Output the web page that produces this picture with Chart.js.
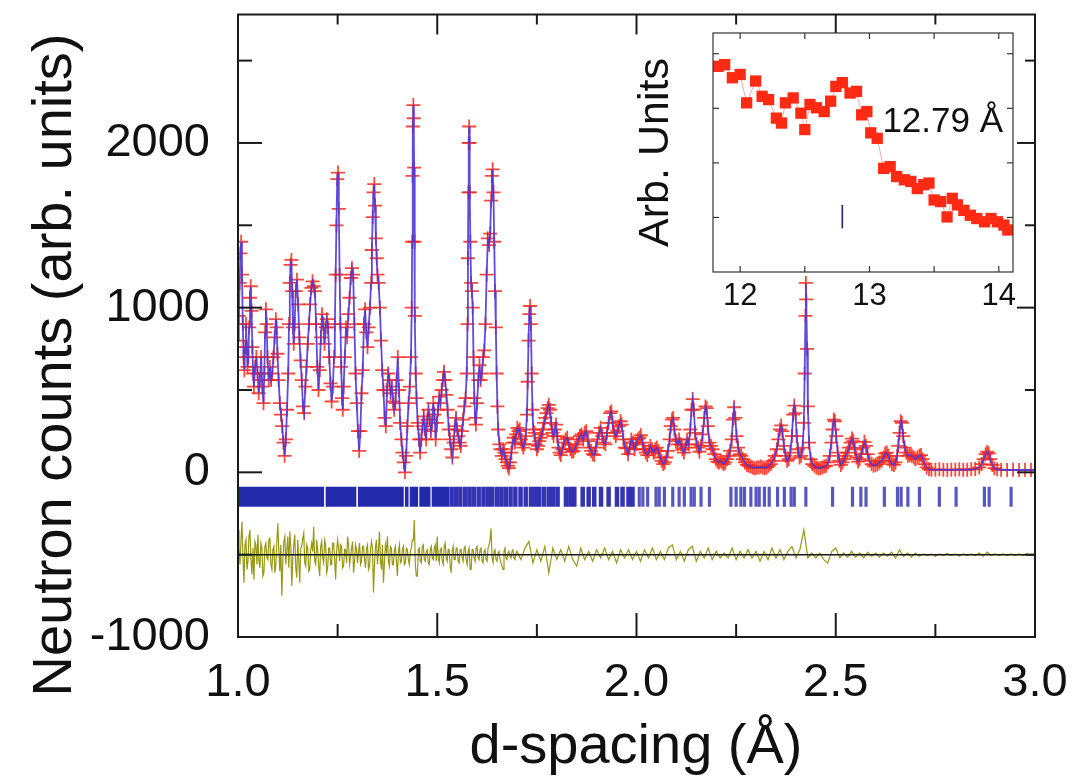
<!DOCTYPE html>
<html>
<head>
<meta charset="utf-8">
<title>Neutron powder diffraction pattern</title>
<script src="https://cdn.jsdelivr.net/npm/chart.js@4.4.1/dist/chart.umd.min.js"></script>
<style>
  html, body { margin: 0; padding: 0; background: #fff; }
  #wrap { position: relative; width: 1072px; height: 780px; }
  #pattern { position: absolute; left: 0; top: 0; }
  #inset { position: absolute; left: 630px; top: 20px; }
</style>
</head>
<body>
<div id="wrap">
  <canvas id="pattern" width="1072" height="780"></canvas>
  <canvas id="inset" width="400" height="300"></canvas>
</div>
<script>
const FONT = "'Liberation Sans', Arial, Helvetica, sans-serif";

// observed counts, [d-spacing (Å), counts]
const obsPattern = [
  [1.000, 800], [1.002, 950], [1.004, 1150], [1.006, 1330], [1.008, 1400], [1.010, 1200], [1.012, 900],
  [1.014, 700], [1.016, 620], [1.018, 760], [1.020, 900], [1.022, 760], [1.024, 640], [1.026, 700],
  [1.028, 880], [1.030, 1060], [1.032, 1130], [1.034, 980], [1.036, 760], [1.038, 600], [1.040, 520],
  [1.043, 640], [1.046, 700], [1.049, 600], [1.052, 480], [1.055, 560], [1.058, 700], [1.061, 520],
  [1.064, 420], [1.066, 600], [1.068, 850], [1.070, 990], [1.072, 900], [1.074, 700], [1.077, 560],
  [1.080, 640], [1.083, 560], [1.086, 600], [1.089, 700], [1.092, 820], [1.095, 930], [1.097, 880],
  [1.099, 720], [1.102, 560], [1.105, 420], [1.108, 350], [1.111, 280], [1.114, 180], [1.117, 100],
  [1.120, 200], [1.123, 380], [1.126, 600], [1.128, 900], [1.130, 1150], [1.132, 1260], [1.134, 1290],
  [1.136, 1100], [1.138, 880], [1.140, 780], [1.142, 900], [1.145, 1100], [1.148, 1170], [1.151, 1020],
  [1.154, 820], [1.157, 680], [1.160, 560], [1.163, 400], [1.166, 360], [1.169, 520], [1.172, 640],
  [1.175, 780], [1.178, 900], [1.181, 1020], [1.184, 1120], [1.187, 1160], [1.190, 1130], [1.193, 1100],
  [1.196, 900], [1.199, 640], [1.202, 500], [1.205, 620], [1.208, 820], [1.211, 960], [1.214, 900],
  [1.217, 780], [1.220, 880], [1.223, 930], [1.226, 880], [1.229, 700], [1.232, 540], [1.235, 430],
  [1.238, 520], [1.241, 700], [1.243, 900], [1.245, 1200], [1.247, 1500], [1.249, 1780], [1.251, 1820],
  [1.253, 1600], [1.255, 1200], [1.257, 900], [1.259, 640], [1.261, 450], [1.263, 380], [1.265, 520],
  [1.268, 700], [1.271, 880], [1.274, 820], [1.277, 960], [1.280, 1060], [1.283, 1180], [1.286, 1240],
  [1.289, 1200], [1.292, 900], [1.295, 600], [1.298, 420], [1.301, 250], [1.304, 130], [1.307, 250],
  [1.310, 480], [1.313, 620], [1.316, 900], [1.319, 990], [1.322, 850], [1.325, 760], [1.328, 880],
  [1.331, 1000], [1.334, 1150], [1.336, 1350], [1.338, 1550], [1.340, 1700], [1.342, 1750], [1.344, 1620],
  [1.346, 1420], [1.348, 1300], [1.350, 1200], [1.353, 1150], [1.356, 1000], [1.359, 800], [1.362, 620],
  [1.365, 500], [1.368, 330], [1.371, 280], [1.374, 500], [1.377, 600], [1.380, 560], [1.383, 480],
  [1.386, 520], [1.389, 430], [1.392, 380], [1.395, 420], [1.398, 560], [1.401, 700], [1.404, 500],
  [1.407, 300], [1.410, 200], [1.413, 120], [1.416, 60], [1.419, 0], [1.422, 100], [1.425, 280],
  [1.428, 420], [1.431, 520], [1.434, 700], [1.436, 1000], [1.437, 1400], [1.438, 1800], [1.439, 2100],
  [1.440, 2230], [1.441, 2150], [1.442, 1850], [1.443, 1400], [1.444, 950], [1.446, 600], [1.448, 450],
  [1.451, 300], [1.454, 200], [1.457, 120], [1.460, 200], [1.463, 280], [1.466, 340], [1.469, 260],
  [1.472, 200], [1.475, 320], [1.478, 380], [1.481, 320], [1.484, 250], [1.487, 300], [1.490, 420],
  [1.493, 350], [1.496, 200], [1.499, 300], [1.502, 380], [1.505, 460], [1.508, 420], [1.511, 500],
  [1.514, 560], [1.517, 610], [1.520, 560], [1.523, 470], [1.526, 380], [1.529, 260], [1.532, 200],
  [1.535, 140], [1.538, 90], [1.541, 180], [1.544, 280], [1.547, 330], [1.550, 260], [1.553, 220],
  [1.556, 180], [1.559, 160], [1.562, 250], [1.565, 320], [1.568, 400], [1.571, 450], [1.574, 600],
  [1.576, 900], [1.577, 1300], [1.578, 1700], [1.579, 2000], [1.580, 2100], [1.581, 2000], [1.582, 1700],
  [1.583, 1400], [1.585, 1150], [1.587, 1100], [1.589, 1000], [1.591, 700], [1.593, 450], [1.595, 330],
  [1.597, 290], [1.600, 420], [1.603, 560], [1.606, 650], [1.609, 560], [1.612, 600], [1.615, 700],
  [1.618, 740], [1.621, 900], [1.624, 1200], [1.627, 1420], [1.630, 1380], [1.633, 1450], [1.635, 1650],
  [1.637, 1800], [1.639, 1840], [1.641, 1700], [1.643, 1400], [1.645, 1100], [1.647, 880], [1.649, 600],
  [1.651, 400], [1.653, 260], [1.656, 170], [1.659, 140], [1.662, 100], [1.665, 140], [1.668, 120],
  [1.671, 80], [1.674, 60], [1.677, 40], [1.680, 25], [1.683, 60], [1.686, 120], [1.689, 180],
  [1.692, 210], [1.695, 180], [1.698, 230], [1.701, 270], [1.704, 250], [1.707, 260], [1.710, 200],
  [1.713, 170], [1.716, 150], [1.719, 170], [1.722, 220], [1.725, 350], [1.727, 550], [1.729, 800],
  [1.731, 960], [1.733, 1010], [1.735, 900], [1.737, 600], [1.739, 380], [1.741, 260], [1.744, 240],
  [1.747, 170], [1.750, 140], [1.753, 160], [1.756, 190], [1.759, 210], [1.762, 230], [1.765, 260],
  [1.768, 300], [1.771, 330], [1.774, 360], [1.777, 390], [1.780, 410], [1.783, 380], [1.786, 300],
  [1.789, 240], [1.792, 220], [1.795, 260], [1.798, 290], [1.801, 220], [1.804, 150], [1.807, 120],
  [1.810, 105], [1.814, 140], [1.818, 180], [1.822, 200], [1.826, 210], [1.830, 170], [1.834, 140],
  [1.838, 125], [1.842, 130], [1.846, 150], [1.850, 170], [1.854, 200], [1.858, 220], [1.862, 230],
  [1.866, 200], [1.870, 240], [1.874, 250], [1.878, 190], [1.882, 150], [1.886, 130], [1.890, 110],
  [1.894, 105], [1.898, 150], [1.902, 200], [1.906, 240], [1.910, 270], [1.914, 220], [1.918, 180],
  [1.922, 170], [1.926, 240], [1.930, 300], [1.934, 360], [1.937, 370], [1.940, 300], [1.944, 240],
  [1.948, 220], [1.952, 250], [1.956, 280], [1.960, 310], [1.963, 290], [1.967, 200], [1.971, 150],
  [1.975, 145], [1.979, 110], [1.983, 150], [1.987, 200], [1.991, 180], [1.995, 140], [1.999, 170],
  [2.003, 200], [2.007, 210], [2.011, 225], [2.015, 180], [2.019, 140], [2.023, 120], [2.027, 105],
  [2.031, 130], [2.035, 160], [2.039, 140], [2.043, 120], [2.047, 140], [2.051, 150], [2.055, 130],
  [2.059, 90], [2.063, 70], [2.067, 50], [2.071, 60], [2.075, 90], [2.079, 130], [2.083, 200],
  [2.086, 280], [2.089, 320], [2.092, 330], [2.095, 260], [2.099, 190], [2.103, 170], [2.107, 200],
  [2.111, 170], [2.115, 140], [2.119, 120], [2.123, 150], [2.127, 200], [2.131, 170], [2.135, 260],
  [2.138, 380], [2.141, 445], [2.144, 380], [2.147, 240], [2.151, 170], [2.155, 150], [2.158, 125],
  [2.162, 160], [2.166, 230], [2.170, 330], [2.173, 400], [2.176, 390], [2.179, 280], [2.183, 180],
  [2.187, 160], [2.191, 140], [2.195, 110], [2.199, 80], [2.203, 65], [2.207, 60], [2.211, 70],
  [2.215, 60], [2.219, 50], [2.223, 60], [2.227, 80], [2.231, 100], [2.235, 130], [2.239, 200],
  [2.242, 320], [2.245, 395], [2.248, 330], [2.251, 220], [2.255, 150], [2.259, 110], [2.263, 100],
  [2.267, 80], [2.272, 60], [2.277, 45], [2.282, 40], [2.287, 35], [2.292, 30], [2.297, 25],
  [2.302, 30], [2.307, 30], [2.312, 35], [2.317, 30], [2.322, 25], [2.327, 30], [2.332, 40],
  [2.337, 50], [2.342, 70], [2.347, 100], [2.352, 140], [2.356, 200], [2.360, 260], [2.363, 285],
  [2.366, 250], [2.370, 160], [2.374, 100], [2.378, 70], [2.382, 80], [2.386, 120], [2.390, 220],
  [2.393, 350], [2.396, 405], [2.399, 360], [2.402, 220], [2.405, 140], [2.409, 90], [2.413, 100],
  [2.417, 150], [2.420, 300], [2.422, 600], [2.424, 950], [2.425, 1150], [2.426, 1050], [2.428, 750],
  [2.430, 400], [2.433, 180], [2.437, 80], [2.441, 50], [2.446, 40], [2.451, 30], [2.456, 25],
  [2.461, 25], [2.466, 30], [2.471, 35], [2.476, 40], [2.481, 60], [2.485, 100], [2.489, 180],
  [2.492, 260], [2.495, 320], [2.498, 310], [2.501, 220], [2.505, 120], [2.509, 70], [2.513, 45],
  [2.517, 60], [2.521, 80], [2.525, 100], [2.529, 120], [2.533, 150], [2.537, 180], [2.541, 205],
  [2.544, 190], [2.548, 140], [2.552, 90], [2.556, 65], [2.560, 80], [2.564, 110], [2.568, 150],
  [2.572, 185], [2.576, 160], [2.580, 110], [2.585, 70], [2.590, 50], [2.595, 40], [2.600, 45],
  [2.605, 50], [2.610, 60], [2.615, 70], [2.620, 90], [2.624, 115], [2.628, 120], [2.632, 100],
  [2.636, 70], [2.641, 50], [2.646, 45], [2.650, 60], [2.654, 100], [2.657, 160], [2.660, 240],
  [2.663, 310], [2.666, 300], [2.669, 220], [2.673, 150], [2.677, 120], [2.681, 100], [2.686, 105],
  [2.691, 100], [2.696, 90], [2.700, 80], [2.705, 90], [2.710, 100], [2.714, 105], [2.718, 80],
  [2.723, 50], [2.728, 30], [2.734, 20], [2.740, 15], [2.750, 15], [2.760, 18], [2.770, 15],
  [2.780, 14], [2.790, 16], [2.800, 15], [2.810, 18], [2.820, 16], [2.830, 15], [2.840, 18],
  [2.850, 20], [2.860, 30], [2.866, 50], [2.871, 80], [2.876, 110], [2.880, 125], [2.884, 115],
  [2.888, 80], [2.893, 45], [2.898, 25], [2.905, 18], [2.915, 15], [2.930, 14], [2.945, 15],
  [2.960, 14], [2.975, 15], [2.990, 14], [3.000, 15]
];

// obs - calc, sampled every 0.0025 Å from 1.000 to 1.700 (one row = 0.05 Å)
const diffFineStart = 1.0, diffFineStep = 0.0025;
const diffFine = [
  150, 40, -60, 90, 200, -20, -170, 60, 90, -90, -40, 110, 150, -30, -120, 40, -150, 80, 60, -60,
  120, -40, -80, 70, 40, -130, -110, 50, 70, -20, -30, 90, 100, -60, -90, 30, 50, -110, -60, 80,
  190, 20, -100, 60, -250, -40, 80, 110, -60, 30, 110, -80, 140, 50, -190, -30, 60, 120, -80, -140,
  90, -30, -170, 40, 50, 100, 130, -50, -70, 60, 40, -100, -90, 30, 70, 20, 170, -40, -60, 90,
  30, -70, -130, 50, 80, -20, -50, 90, 60, -110, -80, 40, 40, -60, -60, 70, 70, -30, -150, 20,
  90, 40, -40, 60, 50, -80, -70, 30, 30, -50, 110, 60, -60, -20, 40, 80, -110, -40, 60, 30,
  -50, 20, 70, -60, -40, 50, 50, -30, -80, 40, 60, -90, -70, 30, 80, 40, -230, -60, 50, 90,
  -60, 30, 140, -40, -90, 60, -170, -50, 60, 20, 110, -40, -70, 50, 40, -60, -60, 30, 50, -40,
  -130, 20, 60, -50, -40, 30, 50, -60, -50, 40, 30, -30, -60, 20, 40, 90, 90, 210, -60, -130,
  -130, 30, 40, -40, -50, 50, 60, -30, -40, 20, 30, -50, -60, 30, 50, -20, -30, 40, 60, -40,
  110, -20, -50, 30, 40, -40, -60, 50, 70, -20, -40, 30, 30, -70, -110, 20, 50, -30, -30, 40,
  40, -40, -50, 30, 30, -20, -40, 40, 50, -30, -60, 20, 40, -90, -90, 30, 30, -20, -40, 40,
  50, -20, -30, 30, 40, -40, -50, 20, 30, -30, -40, 40, 60, 90, 160, -20, -50, 20, 30, -30,
  -40, 10, 20, -30, -50, -70, -90, 20, 40, -20, -30, 10, 20, -10, -20, 20, 30, -20, -30, 10,
  20
];
// obs - calc, sampled every 0.01 Å from 1.71 to 3.00
const diffCoarseStart = 1.71, diffCoarseStep = 0.01;
const diffCoarse = [
  -30, 40, 80, -50, 30, -40, 50, -110, 40, -30, 30, -40, 50, -30, -70, 40, -30, 20, -40, 30,
  -20, 40, -30, 20, -50, 30, -20, 30, -30, 20, -40, 30, -20, 40, -30, 20, -30, 40, 60, -30,
  20, -40, 30, 50, -40, 20, -20, 40, -30, 20, -20, 10, -20, 40, -30, 20, -20, 30, -20, 20,
  -40, 20, -30, 40, -20, 30, -30, 20, 50, -20, 30, 150, -20, 10, -20, 10, -30, -50, 20, 40,
  -20, 10, -15, 20, -15, 10, -20, 15, -10, 10, -15, 10, -10, 15, -20, 30, -10, 10, -15, 10,
  -10, 5, -5, 5, -10, 5, -5, 8, -5, 5, -8, 5, -5, 5, -5, 10, -10, 15, -5, 5,
  -5, 5, -5, 5, -5, 5, -5, 5, -5, 5
];
const diffOffset = -500;

// Bragg reflection markers: fully overlapped ranges, then single reflections
const reflBands = [
  [1.000, 1.216], [1.220, 1.297], [1.301, 1.416], [1.419, 1.428],
  [1.431, 1.452], [1.455, 1.483], [1.486, 1.530]
];
const reflPositions = [
  1.536, 1.547, 1.558, 1.570, 1.581, 1.592, 1.604, 1.616, 1.627, 1.638, 1.650, 1.661, 1.672, 1.684,
  1.696, 1.709, 1.722, 1.735, 1.746, 1.756, 1.768, 1.780, 1.791, 1.802, 1.823, 1.834, 1.844, 1.865,
  1.880, 1.894, 1.911, 1.930, 1.951, 1.965, 1.980, 1.990, 2.007, 2.016, 2.028, 2.049, 2.057, 2.070,
  2.091, 2.107, 2.120, 2.137, 2.145, 2.162, 2.183, 2.237, 2.250, 2.262, 2.271, 2.287, 2.300, 2.308,
  2.321, 2.333, 2.354, 2.371, 2.388, 2.396, 2.425, 2.492, 2.542, 2.563, 2.576, 2.622, 2.655, 2.664,
  2.681, 2.710, 2.760, 2.802, 2.873, 2.885, 2.940
];
const reflLevel = -148;

const xMajorTicks = [1.0, 1.5, 2.0, 2.5, 3.0];
const xMinorTicks = [1.25, 1.75, 2.25, 2.75];
const yMajorTicks = [-1000, 0, 1000, 2000];
const yMinorTicks = [-500, 500, 1500, 2500];

// inset: low-angle region around the 12.79 Å reflection
const insetPoints = [
  [11.83, 3.77], [11.88, 3.80], [11.94, 3.56], [12.00, 3.62], [12.05, 3.10], [12.12, 3.50],
  [12.17, 3.22], [12.22, 3.16], [12.28, 2.82], [12.32, 2.73], [12.35, 3.10], [12.41, 3.19],
  [12.47, 2.91], [12.50, 2.61], [12.54, 3.07], [12.59, 3.01], [12.65, 2.94], [12.70, 3.13],
  [12.74, 3.40], [12.79, 3.47], [12.85, 3.28], [12.90, 3.31], [12.94, 2.88], [12.98, 2.94],
  [13.01, 2.55], [13.06, 2.45], [13.11, 1.90], [13.16, 1.93], [13.21, 1.75], [13.27, 1.69],
  [13.32, 1.66], [13.37, 1.53], [13.42, 1.60], [13.46, 1.63], [13.50, 1.32], [13.55, 1.29],
  [13.60, 1.01], [13.64, 1.35], [13.68, 1.23], [13.73, 1.13], [13.78, 1.04], [13.83, 0.98],
  [13.89, 0.92], [13.94, 0.98], [13.99, 0.92], [14.04, 0.86], [14.07, 0.77]
];
const insetRefl = { d: 12.79, from: 0.80, to: 1.23 };
const insetXTicks = [12, 13, 14];
const insetXMinor = [12.5, 13.5];
const insetYTicks = [1, 2, 3, 4];
const peakNote = { text: '12.79 Å', d: 13.10, level: 2.75 };

const toXY = list => list.map(([x, y]) => ({ x, y }));
const gridSeries = (start, step, values) =>
  values.map((v, i) => ({ x: +(start + i * step).toFixed(4), y: v + diffOffset }));

const diffData = gridSeries(diffFineStart, diffFineStep, diffFine)
  .concat(gridSeries(diffCoarseStart, diffCoarseStep, diffCoarse));

// box around the plot area with inward tick marks on all four sides
function drawFrame(chart, o) {
  const { ctx, chartArea: a, scales: { x, y } } = chart;
  ctx.save();
  ctx.strokeStyle = o.color;
  ctx.lineWidth = o.lineWidth;
  ctx.strokeRect(a.left, a.top, a.right - a.left, a.bottom - a.top);
  const seg = (x1, y1, x2, y2) => { ctx.beginPath(); ctx.moveTo(x1, y1); ctx.lineTo(x2, y2); ctx.stroke(); };
  const xs = o.xMajor.map(v => [v, 0]).concat(o.xMinor.map(v => [v, 1]));
  const ys = o.yMajor.map(v => [v, 0]).concat(o.yMinor.map(v => [v, 1]));
  xs.forEach(([v, k]) => {
    const px = x.getPixelForValue(v);
    seg(px, a.bottom, px, a.bottom - o.bottom[k]);
    seg(px, a.top, px, a.top + o.top[k]);
  });
  ys.forEach(([v, k]) => {
    const py = y.getPixelForValue(v);
    seg(a.left, py, a.left + o.left[k], py);
    seg(a.right, py, a.right - o.right[k], py);
  });
  ctx.restore();
}

const mainFrame = {
  id: 'mainFrame',
  afterDatasetsDraw(chart) {
    drawFrame(chart, {
      color: '#1a1a1a', lineWidth: 2,
      xMajor: xMajorTicks, xMinor: xMinorTicks, yMajor: yMajorTicks, yMinor: yMinorTicks,
      bottom: [24, 13], top: [20, 10], left: [24, 14], right: [18, 10]
    });
    const { ctx } = chart;
    ctx.save();
    ctx.fillStyle = '#111';
    ctx.font = '56px ' + FONT;
    ctx.textAlign = 'center';
    ctx.textBaseline = 'middle';
    ctx.fillText('d-spacing (Å)', 636, 748);
    ctx.translate(56, 365);
    ctx.rotate(-Math.PI / 2);
    ctx.fillText('Neutron counts (arb. units)', 0, 0);
    ctx.restore();
  }
};

new Chart(document.getElementById('pattern'), {
  type: 'scatter',
  data: {
    datasets: [
      {
        type: 'line', label: 'Fit', data: toXY(obsPattern), order: 0,
        borderColor: 'rgba(80,55,215,0.9)', borderWidth: 1.8, pointRadius: 0, tension: 0
      },
      {
        label: 'Observed', data: toXY(obsPattern), order: 1,
        pointStyle: 'cross', pointRadius: 7, pointBorderWidth: 1.8,
        pointBorderColor: 'rgba(255,40,20,0.85)', showLine: false
      },
      {
        label: 'Reflections', data: reflPositions.map(d => ({ x: d, y: reflLevel })), order: 2,
        pointStyle: 'line', rotation: 90, pointRadius: 10,
        pointBorderWidth: c => (c.raw && c.raw.x < 2 ? 4.5 : 3.2),
        pointBorderColor: c => (c.raw && c.raw.x < 2 ? 'rgba(30,30,170,0.9)' : 'rgba(45,45,175,0.8)'),
        showLine: false
      },
      ...reflBands.map(([a, b]) => ({
        type: 'line', data: [{ x: a, y: reflLevel }, { x: b, y: reflLevel }], order: 3,
        borderColor: 'rgba(22,30,165,0.95)', borderWidth: 20, borderCapStyle: 'butt', pointRadius: 0
      })),
      {
        type: 'line', label: 'Difference', data: diffData, order: 4,
        borderColor: 'rgb(152,152,22)', borderWidth: 1.2, pointRadius: 0, tension: 0
      },
      {
        type: 'line', data: [{ x: 1.0, y: diffOffset }, { x: 3.0, y: diffOffset }], order: 3,
        borderColor: '#1a1a1a', borderWidth: 1.5, pointRadius: 0
      }
    ]
  },
  options: {
    responsive: false,
    animation: false,
    devicePixelRatio: 1,
    layout: { padding: { top: 8, right: 37, left: 0, bottom: 0 } },
    plugins: { legend: { display: false }, tooltip: { enabled: false } },
    scales: {
      x: {
        type: 'linear', min: 1.0, max: 3.0,
        grid: { display: false, drawTicks: false }, border: { display: false },
        ticks: { font: { family: FONT, size: 47 }, color: '#111', padding: 18, maxRotation: 0, autoSkip: false,
                 callback: v => v.toFixed(1) },
        afterBuildTicks: s => { s.ticks = xMajorTicks.map(v => ({ value: v })); },
        afterFit: s => { s.height = 143; s.paddingLeft = 0; s.paddingRight = 0; }
      },
      y: {
        type: 'linear', min: -1000, max: 2780,
        grid: { display: false, drawTicks: false }, border: { display: false },
        ticks: { font: { family: FONT, size: 47 }, color: '#111', padding: 28, callback: v => String(v) },
        afterBuildTicks: s => { s.ticks = yMajorTicks.map(v => ({ value: v })); },
        afterFit: s => { s.width = 238; s.paddingTop = 0; s.paddingBottom = 0; }
      }
    }
  },
  plugins: [mainFrame]
});

const insetDecor = {
  id: 'insetDecor',
  beforeDatasetsDraw(chart) {
    const { ctx, chartArea: a } = chart;
    ctx.save();
    ctx.fillStyle = '#fff';
    ctx.fillRect(a.left, a.top, a.right - a.left, a.bottom - a.top);
    ctx.restore();
  },
  afterDatasetsDraw(chart) {
    drawFrame(chart, {
      color: '#333', lineWidth: 1.2,
      xMajor: insetXTicks, xMinor: insetXMinor, yMajor: insetYTicks, yMinor: [],
      bottom: [6, 6], top: [6, 6], left: [6, 6], right: [6, 6]
    });
    const { ctx, scales: { x, y } } = chart;
    ctx.save();
    ctx.fillStyle = '#111';
    ctx.font = '35px ' + FONT;
    ctx.textAlign = 'left';
    ctx.textBaseline = 'middle';
    ctx.fillText(peakNote.text, x.getPixelForValue(peakNote.d), y.getPixelForValue(peakNote.level));
    ctx.restore();
  }
};

new Chart(document.getElementById('inset'), {
  type: 'scatter',
  data: {
    datasets: [
      {
        label: 'Low-angle data', data: toXY(insetPoints), order: 1,
        pointStyle: 'rect', pointRadius: 8, pointBackgroundColor: '#ff2a14', pointBorderWidth: 0,
        showLine: true, borderColor: 'rgba(225,120,110,0.6)', borderWidth: 1
      },
      {
        type: 'line', data: [{ x: insetRefl.d, y: insetRefl.from }, { x: insetRefl.d, y: insetRefl.to }], order: 0,
        borderColor: '#23236e', borderWidth: 1.6, pointRadius: 0
      }
    ]
  },
  options: {
    responsive: false,
    animation: false,
    devicePixelRatio: 1,
    layout: { padding: { top: 13, right: 17, left: 0, bottom: 0 } },
    plugins: { legend: { display: false }, tooltip: { enabled: false } },
    scales: {
      x: {
        type: 'linear', min: 11.79, max: 14.11,
        grid: { display: false, drawTicks: false }, border: { display: false },
        ticks: { font: { family: FONT, size: 31 }, color: '#111', padding: 6, maxRotation: 0, autoSkip: false },
        afterBuildTicks: s => { s.ticks = insetXTicks.map(v => ({ value: v })); },
        afterFit: s => { s.height = 48; s.paddingLeft = 0; s.paddingRight = 0; }
      },
      y: {
        type: 'linear', min: 0, max: 4.38,
        grid: { display: false, drawTicks: false }, border: { display: false },
        ticks: { display: false },
        title: { display: true, text: 'Arb. Units', font: { family: FONT, size: 43 }, color: '#111', padding: 0 },
        afterFit: s => { s.width = 83; s.paddingTop = 0; s.paddingBottom = 0; }
      }
    }
  },
  plugins: [insetDecor]
});
</script>
</body>
</html>
